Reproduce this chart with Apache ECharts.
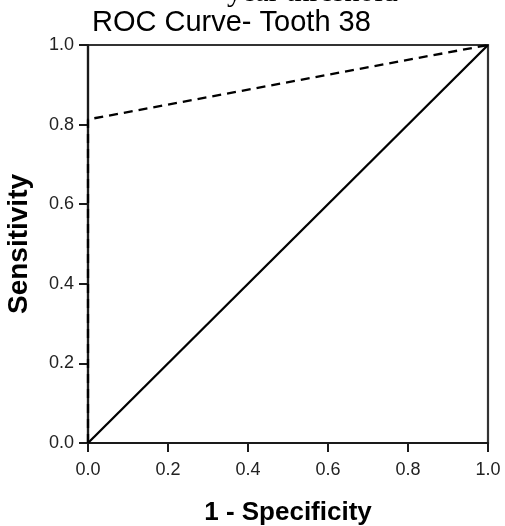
<!DOCTYPE html>
<html>
<head>
<meta charset="utf-8">
<script src="https://cdn.jsdelivr.net/npm/echarts@6/dist/echarts.min.js"></script>
<style>
	html, body { margin: 0; padding: 0; background: #fff; }
	#roc { width: 505px; height: 526px; }
</style>
</head>
<body>
<div id="roc"></div>
<script>
// ROC curve points (1 - specificity, sensitivity)
var roc_x = [0, 0, 1];
var roc_y = [0, 0.813, 1];
// reference diagonal
var ref_x = [0, 1];
var ref_y = [0, 1];
var tick_values = [0, 0.2, 0.4, 0.6, 0.8, 1.0];

function pairs(xs, ys) {
	var out = [];
	for (let i in xs) {
		out.push([xs[i], ys[i]]);
	}
	return out;
}

var chartDom = document.getElementById('roc');
var myChart = echarts.init(chartDom);
var option;

var axis_common = {
	type: 'value',
	min: tick_values[0],
	max: tick_values[tick_values.length - 1],
	interval: 0.2,
	nameLocation: 'middle',
	nameTextStyle: {
		fontFamily: 'Liberation Sans',
		fontWeight: 'bold',
		fontSize: 26,
		color: '#000'
	},
	axisLine: { show: true, lineStyle: { color: '#1a1a1a', width: 2.2 } },
	axisTick: { show: true, length: 9, lineStyle: { color: '#1a1a1a', width: 2 } },
	splitLine: { show: false },
	axisLabel: {
		fontFamily: 'Liberation Sans',
		fontSize: 18,
		color: '#222',
		formatter: function (v) { return v.toFixed(1); }
	}
};

option = {
	animation: false,
	grid: {
		left: 88,
		right: 17,
		top: 45,
		bottom: 83,
		outerBoundsMode: 'none',
		containLabel: false,
		show: true,
		borderColor: '#333',
		borderWidth: 2.2
	},
	graphic: [
		{
			type: 'text',
			x: 227,
			y: -6.5,
			style: {
				text: 'year threshold',
				font: '30px "Liberation Serif"',
				fill: '#000',
				textVerticalAlign: 'middle'
			}
		},
		{
			type: 'text',
			x: 92,
			y: 23,
			style: {
				text: 'ROC Curve- Tooth 38',
				font: '29px "Liberation Sans"',
				fill: '#000',
				textVerticalAlign: 'middle'
			}
		}
	],
	xAxis: Object.assign({}, axis_common, {
		name: '1 - Specificity',
		nameGap: 57,
		axisLabel: Object.assign({}, axis_common.axisLabel, { margin: 18 })
	}),
	yAxis: Object.assign({}, axis_common, {
		name: 'Sensitivity',
		nameGap: 55,
		nameTextStyle: Object.assign({}, axis_common.nameTextStyle, { fontSize: 28 }),
		axisLabel: Object.assign({}, axis_common.axisLabel, { margin: 14 })
	}),
	series: [
		{
			name: 'Reference',
			type: 'line',
			data: pairs(ref_x, ref_y),
			showSymbol: false,
			lineStyle: { color: '#000', width: 2.3 }
		},
		{
			name: 'ROC',
			type: 'line',
			data: pairs(roc_x, roc_y),
			showSymbol: false,
			lineStyle: { color: '#000', width: 2.3, type: [9, 6] }
		}
	]
};

option && myChart.setOption(option);
</script>
</body>
</html>
